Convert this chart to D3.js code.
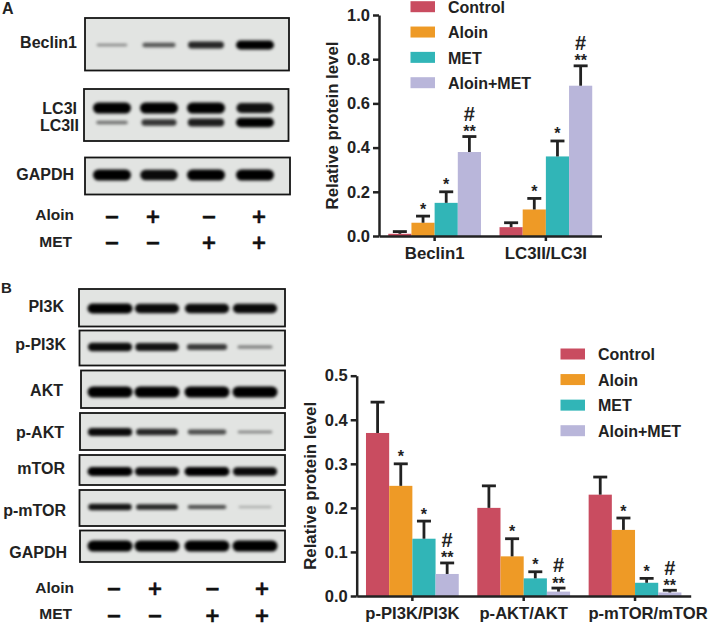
<!DOCTYPE html>
<html>
<head>
<meta charset="utf-8">
<script src="https://cdn.jsdelivr.net/npm/d3@7"></script>
<style>
  html, body { margin: 0; padding: 0; background: #fff; }
  svg { display: block; }
  text { font-family: "Liberation Sans", Arial, sans-serif; font-weight: bold; fill: #222; }
</style>
</head>
<body>
<div id="figure"></div>
<script>
// legend / groups
var treatments = ["Control", "Aloin", "MET", "Aloin+MET"];
var colors = ["#c94c60", "#ee9a26", "#31b5b7", "#b9b6da"];

// panel A values (bar height and top of the error bar)
var groupsA = ["Beclin1", "LC3II/LC3I"];
var valuesA = [[0.01, 0.06, 0.15, 0.38], [0.04, 0.12, 0.36, 0.68]];
var errTopA = [[0.02, 0.09, 0.20, 0.45], [0.06, 0.17, 0.43, 0.77]];
var marksA = [["", "*", "*", "#"], ["", "*", "*", "#"]];
var ticksA = [0, 0.2, 0.4, 0.6, 0.8, 1.0];

// panel B values
var groupsB = ["p-PI3K/PI3K", "p-AKT/AKT", "p-mTOR/mTOR"];
var valuesB = [[0.37, 0.25, 0.13, 0.05], [0.20, 0.09, 0.04, 0.01], [0.23, 0.15, 0.03, 0.008]];
var errTopB = [[0.44, 0.30, 0.17, 0.075], [0.25, 0.13, 0.055, 0.018], [0.27, 0.177, 0.04, 0.013]];
var marksB = [["", "*", "*", "#"], ["", "*", "*", "#"], ["", "*", "*", "#"]];
var ticksB = [0, 0.1, 0.2, 0.3, 0.4, 0.5];

// blot band strength per lane, 0 to 1
var beclin1 = [0.3, 0.55, 0.8, 1];
var lc3i = [1, 1, 1, 0.92];
var lc3ii = [0.4, 0.72, 0.85, 1];
var gapdhA = [1, 0.95, 1, 1];
var pi3k = [1, 0.95, 0.95, 0.95];
var pPi3k = [0.95, 0.9, 0.7, 0.38];
var akt = [1, 1, 1, 1];
var pAkt = [0.95, 0.8, 0.6, 0.35];
var mtor = [1, 0.95, 1, 0.95];
var pMtor = [0.9, 0.8, 0.6, 0.25];
var gapdhB = [1, 1, 1, 1];

// lane treatments
var aloinSigns = ["\u2212", "+", "\u2212", "+"];
var metSigns = ["\u2212", "\u2212", "+", "+"];

var svg = d3.select("#figure").append("svg").attr("width", 709).attr("height", 625);

var defs = svg.append("defs");
defs.append("filter").attr("id", "soft")
  .attr("x", "-20%").attr("y", "-100%").attr("width", "140%").attr("height", "300%")
  .append("feGaussianBlur").attr("stdDeviation", 1.8);

var bandHeight = d3.scaleLinear().domain([0.25, 1]).range([2.5, 11]);
var bandOpacity = d3.scaleLinear().domain([0.25, 1]).range([0.38, 1]);

function drawBlot(box, laneX, widthRange, label, bands) {
  var bandWidth = d3.scaleLinear().domain([0.25, 1]).range(widthRange);

  svg.append("rect")
    .attr("x", box[0]).attr("y", box[2])
    .attr("width", box[1] - box[0]).attr("height", box[3] - box[2])
    .attr("fill", "#e2e4e2").attr("stroke", "#151515").attr("stroke-width", 1.8);

  bands.forEach(function (b) {
    var thick = b.thick || 1;
    svg.append("g").attr("filter", "url(#soft)")
      .selectAll("rect").data(b.values).enter().append("rect")
      .attr("x", (d, i) => laneX(i) - bandWidth(d) / 2)
      .attr("y", d => b.y - thick * bandHeight(d) / 2)
      .attr("width", d => bandWidth(d))
      .attr("height", d => thick * bandHeight(d))
      .attr("rx", d => thick * bandHeight(d) / 2)
      .attr("fill", "#000")
      .attr("opacity", d => bandOpacity(d));
  });

  label.forEach(function (l) {
    svg.append("text").attr("x", l.x).attr("y", l.y)
      .attr("text-anchor", "end").attr("font-size", 16).text(l.text);
  });
}

function drawSigns(laneX, signs, y, labelText, labelX, labelY) {
  svg.append("text").attr("x", labelX).attr("y", labelY)
    .attr("text-anchor", "end").attr("font-size", 15.5).text(labelText);
  svg.append("g").selectAll("text").data(signs).enter().append("text")
    .attr("x", (d, i) => laneX(i))
    .attr("y", y + 5.9)
    .attr("text-anchor", "middle")
    .attr("font-size", 19)
    .style("font-family", "'DejaVu Sans'")
    .style("fill", "#111")
    .style("stroke", "#111")
    .style("stroke-width", 0.5)
    .text(d => d);
}

// panel A blots
var lanesA = d3.scaleOrdinal().domain([0, 1, 2, 3]).range([112, 159, 206, 255]);
var widthsA = [30, 38];
drawBlot([85, 289, 18, 70.5], lanesA, widthsA, [{ text: "Beclin1", x: 77, y: 48 }],
  [{ values: beclin1, y: 45, thick: 0.8 }]);
drawBlot([84, 288.5, 89, 141], lanesA, widthsA, [{ text: "LC3I", x: 77, y: 114 }, { text: "LC3II", x: 79, y: 130.5 }],
  [{ values: lc3i, y: 108 }, { values: lc3ii, y: 122.5, thick: 0.85 }]);
drawBlot([85, 290, 157.5, 194.5], lanesA, widthsA, [{ text: "GAPDH", x: 74, y: 180 }],
  [{ values: gapdhA, y: 175 }]);

var signsA = d3.scaleOrdinal().domain([0, 1, 2, 3]).range([112, 153, 209, 259]);
drawSigns(signsA, aloinSigns, 217, "Aloin", 74, 220);
drawSigns(signsA, metSigns, 243, "MET", 72, 246.5);

// panel B blots
var lanesB = d3.scaleOrdinal().domain([0, 1, 2, 3]).range([110, 157, 207, 255]);
var widthsB = [33, 45];
drawBlot([79, 285, 289, 326.5], lanesB, widthsB, [{ text: "PI3K", x: 64, y: 311.5 }], [{ values: pi3k, y: 308.5, thick: 0.9 }]);
drawBlot([79.5, 285, 330.5, 365.5], lanesB, widthsB, [{ text: "p-PI3K", x: 66, y: 350 }], [{ values: pPi3k, y: 347, thick: 0.8 }]);
drawBlot([81, 285, 370.5, 408], lanesB, widthsB, [{ text: "AKT", x: 63, y: 396 }], [{ values: akt, y: 392 }]);
drawBlot([80, 285, 413, 450], lanesB, widthsB, [{ text: "p-AKT", x: 64, y: 438 }], [{ values: pAkt, y: 432, thick: 0.75 }]);
drawBlot([79.5, 285, 455, 485], lanesB, widthsB, [{ text: "mTOR", x: 65, y: 474 }], [{ values: mtor, y: 471.5, thick: 0.8 }]);
drawBlot([79.5, 285, 490, 526], lanesB, widthsB, [{ text: "p-mTOR", x: 66, y: 515.5 }], [{ values: pMtor, y: 507, thick: 0.65 }]);
drawBlot([80, 285, 530.5, 562], lanesB, widthsB, [{ text: "GAPDH", x: 67, y: 558 }], [{ values: gapdhB, y: 546 }]);

var signsB = d3.scaleOrdinal().domain([0, 1, 2, 3]).range([114, 155, 212.5, 262]);
drawSigns(signsB, aloinSigns, 589, "Aloin", 74, 592.5);
drawSigns(signsB, metSigns, 616.5, "MET", 72, 619);

// panel letters
svg.append("text").attr("x", 2).attr("y", 14).attr("font-size", 16).text("A");
svg.append("text").attr("x", 1).attr("y", 293).attr("font-size", 15).text("B");

function generateBarChart(opts) {
  var x = d3.scaleBand().domain(opts.groups)
    .range([opts.left, opts.right])
    .paddingInner(1 / 6).paddingOuter(1 / 12);
  var xInner = d3.scaleBand().domain(d3.range(treatments.length)).range([0, x.bandwidth()]);
  var y = d3.scaleLinear().domain([0, opts.ymax]).range([opts.bottom, opts.top]);

  var group = svg.selectAll(null).data(opts.groups).enter().append("g")
    .attr("transform", d => `translate(${x(d)},0)`);

  opts.groups.forEach(function (name, g) {
    var gEl = d3.select(group.nodes()[g]);

    gEl.selectAll("rect").data(opts.values[g]).enter().append("rect")
      .attr("x", (d, i) => xInner(i))
      .attr("y", d => y(d))
      .attr("width", xInner.bandwidth())
      .attr("height", d => y(0) - y(d))
      .attr("fill", (d, i) => colors[i]);

    // error bars
    gEl.selectAll("line.stem").data(opts.errTop[g]).enter().append("line")
      .attr("class", "stem")
      .attr("x1", (d, i) => xInner(i) + xInner.bandwidth() / 2)
      .attr("x2", (d, i) => xInner(i) + xInner.bandwidth() / 2)
      .attr("y1", d => y(d))
      .attr("y2", (d, i) => y(opts.values[g][i]))
      .attr("stroke", "#222").attr("stroke-width", 2.8);
    gEl.selectAll("line.cap").data(opts.errTop[g]).enter().append("line")
      .attr("class", "cap")
      .attr("x1", (d, i) => xInner(i) + xInner.bandwidth() / 2 - 7)
      .attr("x2", (d, i) => xInner(i) + xInner.bandwidth() / 2 + 7)
      .attr("y1", d => y(d))
      .attr("y2", d => y(d))
      .attr("stroke", "#222").attr("stroke-width", 2.8);

    // significance marks
    opts.marks[g].forEach(function (m, i) {
      var cx = xInner(i) + xInner.bandwidth() / 2;
      var top = y(opts.errTop[g][i]);
      if (m === "*") {
        gEl.append("text").attr("x", cx).attr("y", top - 1.5)
          .attr("text-anchor", "middle").attr("font-size", 16).text("*");
      } else if (m === "#") {
        gEl.append("text").attr("x", cx).attr("y", top + 0.5)
          .attr("text-anchor", "middle").attr("font-size", 16).text("**");
        gEl.append("text").attr("x", cx).attr("y", top - 15.7)
          .attr("text-anchor", "middle").attr("font-size", 20).text("#");
      }
    });
  });

  var yAxis = d3.axisLeft(y).tickValues(opts.ticks).tickFormat(d3.format(".1f"))
    .tickSize(6).tickSizeOuter(0).tickPadding(3);
  var xAxis = d3.axisBottom(x).tickSize(5).tickSizeOuter(0).tickPadding(6);

  var gy = svg.append("g").attr("transform", `translate(${opts.left},0)`).call(yAxis);
  var gx = svg.append("g").attr("transform", `translate(0,${opts.bottom})`).call(xAxis);

  [gy, gx].forEach(function (a) {
    a.selectAll("path, line").attr("stroke", "#222").attr("stroke-width", 2.5);
    a.attr("font-family", null);
  });
  gy.selectAll("text").attr("font-size", 16.5).style("fill", "#222");
  gx.selectAll("text").attr("font-size", opts.xFont).style("fill", "#222")
    .attr("dx", (d, i) => opts.labelShift[i]);

  svg.append("text")
    .attr("transform", `translate(${opts.titleX},${(opts.top + opts.bottom) / 2}) rotate(-90)`)
    .attr("text-anchor", "middle")
    .attr("font-size", 16.8)
    .text("Relative protein level");

  // legend
  treatments.forEach(function (t, i) {
    svg.append("rect")
      .attr("x", opts.legendX).attr("y", opts.legendY(i) - 5.5)
      .attr("width", 24.5).attr("height", 11)
      .attr("fill", colors[i]);
    svg.append("text")
      .attr("x", opts.legendX + 37.5).attr("y", opts.legendY(i) + 6.2)
      .attr("font-size", 16).text(t);
  });
}

generateBarChart({
  groups: groupsA, values: valuesA, errTop: errTopA, marks: marksA, ticks: ticksA, xFont: 16.8, labelShift: [0, 0],
  ymax: 1, left: 379, right: 601.5, top: 15, bottom: 236, titleX: 338,
  legendX: 410.5, legendY: d3.scaleLinear().domain([0, 3]).range([6.7, 82.7])
});

generateBarChart({
  groups: groupsB, values: valuesB, errTop: errTopB, marks: marksB, ticks: ticksB, xFont: 16.6, labelShift: [0, 0, 13],
  ymax: 0.5, left: 356.7, right: 690.7, top: 375.7, bottom: 596, titleX: 316,
  legendX: 560.5, legendY: d3.scaleLinear().domain([0, 3]).range([354, 430.7])
});
</script>
</body>
</html>
